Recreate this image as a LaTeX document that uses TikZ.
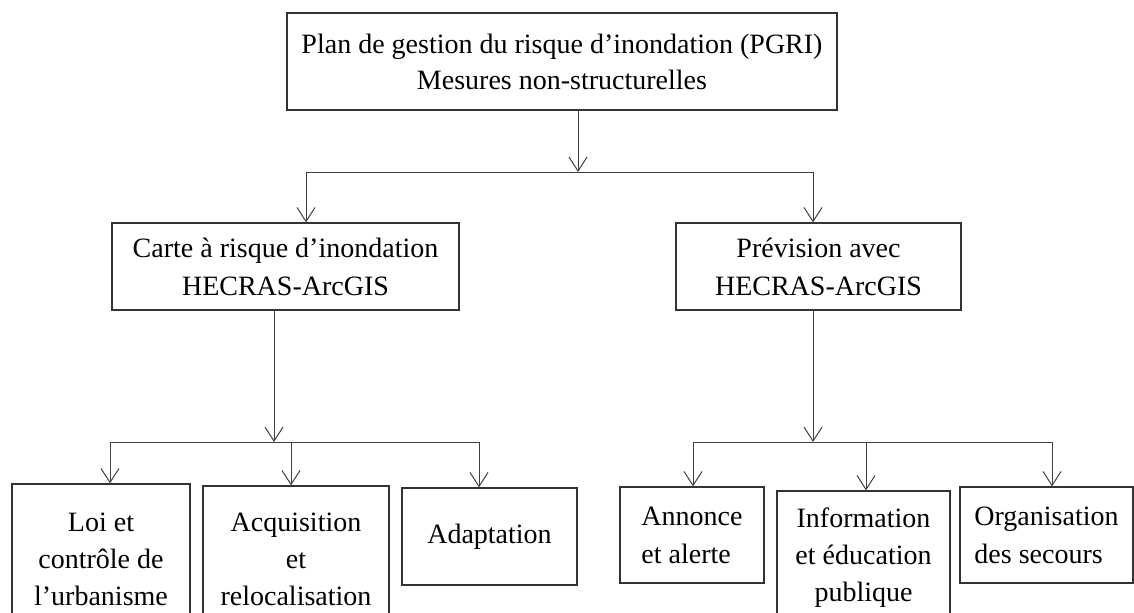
\documentclass[tikz,border=0pt]{standalone}
\usepackage{fontspec}
\setmainfont{Liberation Serif}
\tikzset{
every picture/.style={
line width=0.5pt
}}
\usetikzlibrary{arrows.meta,
                calc,
                positioning}

\begin{document}
\begin{tikzpicture}[
    x=0.5pt, y=-0.5pt,
      base/.style = {draw=black!80, line width=0.6pt, inner sep=0pt,
                     align=center, font=\fontsize{14}{19}\selectfont},
      plan/.style = {base, minimum width=275pt, minimum height=48.5pt,
                     font=\fontsize{14}{18}\selectfont},
     level/.style = {base, minimum height=43.5pt},
      leaf/.style = {base, minimum width=86.5pt},
      link/.style = {draw=black!75, arrows=-{Straight Barb[length=7pt,width=9pt]}}
                    ]
\clip (0,0) rectangle (1134,612);
\node [plan]        (pgri) at (562,61.5)
      {Plan de gestion du risque d’inondation (PGRI)\\ Mesures non-structurelles};
\node [level, minimum width=173.5pt] (carte) at (285.5,266.5)
      {Carte à risque d’inondation\\ HECRAS-ArcGIS};
\node [level, minimum width=142.5pt] (prev)  at (818.5,266.5)
      {Prévision avec\\ HECRAS-ArcGIS};
% 
\node [leaf, minimum width=89pt, minimum height=75.5pt,
      font=\fontsize{14}{18.5}\selectfont] (loi)   at (101,559.5)
      {Loi et\\ contrôle de\\ l’urbanisme};
\node [leaf, minimum width=93pt, minimum height=73.5pt,
      font=\fontsize{14}{18.5}\selectfont] (acq)   at (296,559.5)
      {Acquisition\\ et\\ relocalisation};
\node [leaf, minimum width=87.5pt, minimum height=48.5pt] (adapt) at (489.5,536.5)
      {Adaptation};
\node [leaf, minimum width=72pt, minimum height=48pt, align=left] (annonce) at (692,535)
      {Annonce\\ et alerte};
\node [leaf, minimum height=67pt,
      font=\fontsize{14}{18.5}\selectfont] (info)  at (863.5,558)
      {Information\\ et éducation\\ publique};
\node [leaf, minimum height=48pt, align=left] (orga)  at (1046.5,535)
      {Organisation\\ des secours};
%%
\coordinate (T)  at (578,172);
\coordinate (TL) at (306,172);
\coordinate (TR) at (813,172);
\coordinate (L)  at (274,442);
\coordinate (LA) at (110,442);
\coordinate (LB) at (291,442);
\coordinate (LC) at (479,442);
\coordinate (R)  at (813,442);
\coordinate (RA) at (693,442);
\coordinate (RB) at (866,442);
\coordinate (RC) at (1052,442);
\draw [link] (pgri.south -| T) -- (T);
\draw [link] (carte.south -| L) -- (L);
\draw [link] (prev.south -| R) -- (R);
\draw [draw=black!75] (TL) -- (TR)
                      (LA) -- (LC)
                      (RA) -- (RC);
\foreach \c/\n in {TL/carte, TR/prev, LA/loi, LB/acq, LC/adapt,
                   RA/annonce, RB/info, RC/orga}
  \draw [link] (\c) -- (\c |- \n.north);
\end{tikzpicture}
\end{document}
